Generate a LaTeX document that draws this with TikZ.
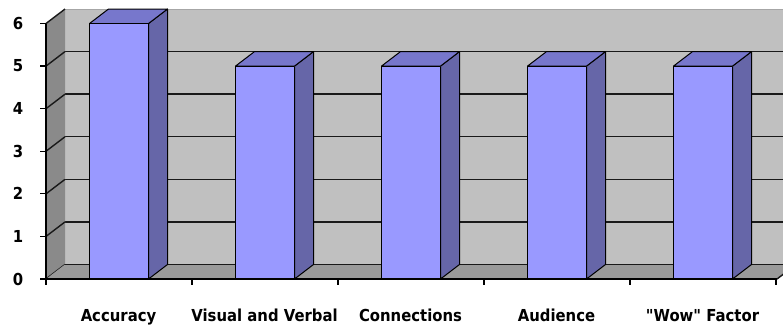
\documentclass[tikz,border=0pt]{standalone}
\usepackage{fontspec}
\setmainfont{DejaVu Sans}[Ligatures=TeXOff,FakeStretch=0.9]
\definecolor{wallback}{HTML}{C0C0C0}
\definecolor{wallside}{HTML}{8A8A8A}
\definecolor{floorgray}{HTML}{9A9A9A}
\definecolor{barfront}{HTML}{9999FF}
\definecolor{bartop}{HTML}{7777CC}
\definecolor{barside}{HTML}{6666A8}
\begin{document}
\begin{tikzpicture}[x=1pt,y=-1pt,
  gridline/.style={draw=black!90,line width=1.4pt},
  axisline/.style={draw=black,line width=1.3pt},
  baredge/.style={draw=black,line width=1pt,line join=round},
  ticklabel/.style={font=\fontsize{16.5}{19}\selectfont\bfseries,inner sep=0pt},
  catlabel/.style={font=\fontsize{16.5}{19}\selectfont\bfseries,inner sep=0pt,anchor=base}]
\useasboundingbox (0,0) rectangle (783,324);
\clip (0,0) rectangle (783,324);
% depth offset of the 3-D frame and bars
\def\dx{19}
\def\dy{-14.5}
% back wall with its gridlines
\fill[wallback] (65,9) rectangle (800,264.5);
\draw[black!35,line width=0.8pt] (65,9) -- (800,9);
\foreach \v in {0,...,5}
  \draw[gridline] (65,{264.5-42.58*\v}) -- (800,{264.5-42.58*\v});
% left side wall with slanted gridlines
\fill[wallside] (46,23.5) -- (65,9) -- (65,264.5) -- (46,279) -- cycle;
\foreach \v in {0,...,6}
  \draw[gridline] (46,{279-42.58*\v}) -- ++(\dx,\dy);
% floor
\fill[floorgray] (46,279) -- (65,264.5) -- (800,264.5) -- (777,279) -- cycle;
\draw[gridline] (65,264.5) -- (800,264.5);
\draw[gridline] (777,279) -- ++(\dx,\dy);
% bars
\foreach \i/\v in {0/6,1/5,2/5,3/5,4/5}{
  \pgfmathsetmacro\l{89.5+146*\i}
  \pgfmathsetmacro\r{\l+59}
  \pgfmathsetmacro\t{279-42.58*\v}
  \filldraw[baredge,fill=barside] (\r,\t) -- ++(\dx,\dy) -- (\r+\dx,264.5) -- (\r,279) -- cycle;
  \filldraw[baredge,fill=bartop] (\l,\t) -- (\r,\t) -- ++(\dx,\dy) -- (\l+\dx,\t+\dy) -- cycle;
  \filldraw[baredge,fill=barfront] (\l,\t) rectangle (\r,279);
}
% axes and ticks
\draw[axisline] (46,23.5) -- (46,279) -- (777,279);
\foreach \v in {0,...,6}{
  \draw[axisline] (40,{279-42.58*\v}) -- (46,{279-42.58*\v});
  \node[ticklabel] (y\v) at (18,{279-42.58*\v}) {\v};
}
\foreach \k in {0,...,5}
  \draw[axisline] ({46+146*\k},279) -- ({46+146*\k},285);
% category labels
\node[catlabel] (c1) at (118.5,321.5) {Accuracy};
\node[catlabel] (c2) at (264.5,321.5) {Visual and Verbal};
\node[catlabel] (c3) at (410.5,321.5) {Connections};
\node[catlabel] (c4) at (556.5,321.5) {Audience};
\node[catlabel] (c5) at (702.5,321.5) {"Wow" Factor};
\end{tikzpicture}
\end{document}
